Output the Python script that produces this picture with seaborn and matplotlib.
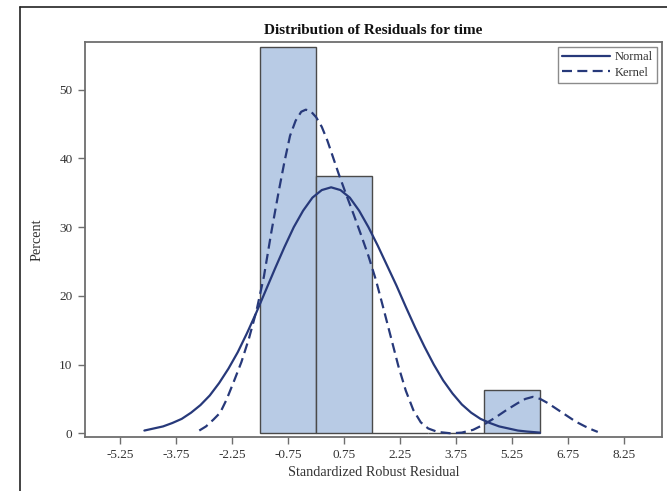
import matplotlib
matplotlib.use("Agg")
import matplotlib.pyplot as plt
from matplotlib.lines import Line2D
import seaborn as sns
import pandas as pd

# ---- data ----
bin_edges = [-1.5, 0.0, 1.5, 3.0, 4.5, 6.0]
bin_mids = [-0.75, 0.75, 2.25, 3.75, 5.25]
bin_percent = [56.25, 37.5, 0.0, 0.0, 6.25]

normal_x = [-4.6, -4.35, -4.1, -3.85, -3.6, -3.35, -3.1, -2.85, -2.6, -2.35, -2.1,
            -1.85, -1.6, -1.35, -1.1, -0.85, -0.6, -0.35, -0.1, 0.15, 0.4, 0.65,
            0.9, 1.15, 1.4, 1.65, 1.9, 2.15, 2.4, 2.65, 2.9, 3.15, 3.4, 3.65,
            3.9, 4.15, 4.4, 4.65, 4.9, 5.15, 5.4, 5.65, 5.99]
normal_y = [0.4, 0.7, 1.0, 1.5, 2.1, 3.0, 4.1, 5.5, 7.3, 9.4, 11.8,
            14.6, 17.6, 20.8, 24.0, 27.1, 30.0, 32.4, 34.3, 35.4, 35.8, 35.4,
            34.3, 32.4, 30.0, 27.3, 24.4, 21.5, 18.4, 15.4, 12.6, 10.0, 7.7, 5.8,
            4.2, 3.0, 2.1, 1.5, 1.0, 0.7, 0.4, 0.25, 0.1]

kernel_x = [-3.13, -2.95, -2.75, -2.57, -2.4, -2.2, -2.0, -1.8, -1.6, -1.4, -1.2,
            -1.0, -0.85, -0.7, -0.55, -0.4, -0.28, -0.15, 0.0, 0.15, 0.3, 0.45,
            0.6, 0.8, 1.0, 1.2, 1.4, 1.6, 1.8, 2.0, 2.2, 2.4, 2.6, 2.8, 3.0,
            3.25, 3.6, 3.9, 4.2, 4.5, 4.8, 5.1, 5.4, 5.6, 5.8, 6.0, 6.2, 6.45,
            6.7, 6.95, 7.2, 7.4, 7.54]
kernel_y = [0.4, 1.0, 2.0, 3.0, 4.9, 7.6, 10.4, 13.8, 17.8, 22.8, 29.3,
            35.3, 39.5, 43.3, 45.5, 46.8, 47.1, 46.9, 46.0, 44.6, 42.6, 40.2,
            37.8, 34.8, 31.9, 28.9, 25.8, 22.3, 18.2, 14.0, 9.8, 6.2, 3.4, 1.6, 0.7,
            0.2, 0.0, 0.1, 0.5, 1.3, 2.3, 3.4, 4.4, 5.0, 5.3, 5.0, 4.4, 3.5,
            2.6, 1.7, 1.0, 0.5, 0.2]

x_ticks = [-5.25, -3.75, -2.25, -0.75, 0.75, 2.25, 3.75, 5.25, 6.75, 8.25]
x_tick_labels = ["-5.25", "-3.75", "-2.25", "-0.75", "0.75", "2.25", "3.75", "5.25", "6.75", "8.25"]
y_ticks = [0, 10, 20, 30, 40, 50]

title = "Distribution of Residuals for time"
x_label = "Standardized Robust Residual"
y_label = "Percent"

# ---- styling ----
sns.set_style("white")
plt.rcParams["font.family"] = ["Liberation Serif", "DejaVu Serif"]

line_color = "#27397a"
bar_color = "#b8cbe5"
bar_edge = "#4a4a4a"
spine_color = "#6e6e6e"
text_color = "#333333"

fig = plt.figure(figsize=(6.67, 4.91), dpi=100)
ax = fig.add_axes([85 / 667, 1 - 437 / 491, (662 - 85) / 667, (437 - 42) / 491])

hist_df = pd.DataFrame({"x": bin_mids, "w": bin_percent})
sns.histplot(data=hist_df, x="x", weights="w", bins=bin_edges, stat="count",
             color=bar_color, alpha=1.0, edgecolor=bar_edge, linewidth=1.0, ax=ax)

norm_df = pd.DataFrame({"x": normal_x, "y": normal_y})
kern_df = pd.DataFrame({"x": kernel_x, "y": kernel_y})
sns.lineplot(data=norm_df, x="x", y="y", sort=False, estimator=None,
             color=line_color, linewidth=1.6, ax=ax, label="Normal")
sns.lineplot(data=kern_df, x="x", y="y", sort=False, estimator=None,
             color=line_color, linewidth=1.6, ax=ax, label="Kernel",
             linestyle=(0, (4.5, 2.4)))

ax.set_xlim(-6.19, 9.26)
ax.set_ylim(-0.54, 56.95)
ax.set_xticks(x_ticks)
ax.set_xticklabels(x_tick_labels)
ax.set_yticks(y_ticks)
ax.tick_params(axis="both", direction="out", length=5, width=1.0,
               color=spine_color, labelsize=9.5, labelcolor=text_color, pad=4,
               bottom=True, left=True)
for s in ax.spines.values():
    s.set_visible(True)
    s.set_color(spine_color)
    s.set_linewidth(1.3)

ax.set_title(title, fontsize=11, fontweight="bold", color="#111111", pad=6)
ax.set_xlabel(x_label, fontsize=10.3, color=text_color, labelpad=3)
ax.set_ylabel(y_label, fontsize=10.3, color=text_color, labelpad=11)

leg = ax.legend(loc="upper right", bbox_to_anchor=(0.992, 0.988), borderaxespad=0,
                fontsize=9, frameon=True, fancybox=False,
                handlelength=3.8, handletextpad=0.4, borderpad=0.35,
                labelspacing=0.3)
leg.get_frame().set_edgecolor(spine_color)
leg.get_frame().set_linewidth(1.0)
for t in leg.get_texts():
    t.set_color(text_color)

# outer frame of the screenshot
fig.add_artist(Line2D([20 / 667, 20 / 667], [0, 1 - 7 / 491], transform=fig.transFigure,
                      color="#222222", linewidth=1.2))
fig.add_artist(Line2D([20 / 667, 1], [1 - 7 / 491, 1 - 7 / 491], transform=fig.transFigure,
                      color="#222222", linewidth=1.2))

fig.savefig("out.png", dpi=100)
